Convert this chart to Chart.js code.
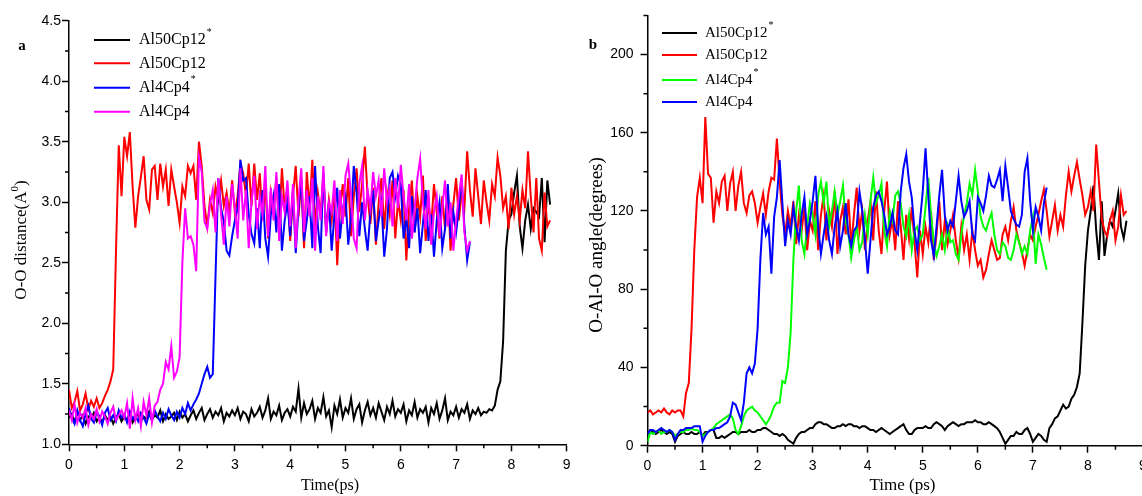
<!DOCTYPE html>
<html>
<head>
<meta charset="utf-8">
<script src="https://cdn.jsdelivr.net/npm/chart.js@4.4.1/dist/chart.umd.min.js"></script>
<style>
  html, body { margin: 0; padding: 0; background: #fff; overflow: hidden; }
  #wrap { position: relative; width: 1142px; height: 496px; overflow: hidden; }
  canvas { position: absolute; top: 0; }
  #graficoA { left: 0; }
  #graficoB { left: 575px; }
</style>
</head>
<body>
<div id="wrap">
  <canvas id="graficoA" width="580" height="496"></canvas>
  <canvas id="graficoB" width="580" height="496"></canvas>
</div>
<script>
// Muestreo de las series (ps entre puntos)
const pasoTiempo = 0.05;

// Etiquetas de los ejes
const ticksTiempo = [0, 1, 2, 3, 4, 5, 6, 7, 8, 9];
const ticksDistancia = [1.0, 1.5, 2.0, 2.5, 3.0, 3.5, 4.0, 4.5];
const ticksAngulo = [0, 40, 80, 120, 160, 200];

// Panel a: distancia O-O (A)
const distAl50Cp12Est = [
  1.22,1.25,1.18,1.27,1.20,1.24,1.17,1.23,1.21,1.26,1.19,1.22,1.18,1.24,1.20,1.23,1.17,1.22,1.25,1.19,
  1.23,1.20,1.26,1.18,1.22,1.25,1.19,1.23,1.21,1.27,1.20,1.24,1.22,1.28,1.19,1.25,1.21,1.23,1.26,1.20,
  1.27,1.22,1.25,1.19,1.24,1.28,1.21,1.26,1.30,1.20,1.25,1.29,1.22,1.27,1.24,1.30,1.19,1.26,1.23,1.28,
  1.24,1.30,1.21,1.27,1.25,1.19,1.29,1.23,1.26,1.31,1.22,1.28,1.38,1.21,1.27,1.24,1.32,1.20,1.26,1.29,
  1.23,1.31,1.27,1.46,1.22,1.34,1.25,1.29,1.36,1.21,1.30,1.26,1.39,1.23,1.28,1.14,1.32,1.25,1.37,1.22,
  1.30,1.26,1.38,1.21,1.29,1.33,1.18,1.28,1.35,1.24,1.30,1.22,1.34,1.27,1.20,1.31,1.25,1.36,1.23,1.29,
  1.26,1.33,1.19,1.28,1.24,1.35,1.22,1.29,1.26,1.31,1.18,1.30,1.25,1.34,1.21,1.28,1.38,1.20,1.27,1.24,
  1.31,1.22,1.29,1.26,1.33,1.21,1.28,1.25,1.30,1.24,1.27,1.26,1.29,1.28,1.32,1.45,1.52,1.85,2.60,2.85,
  2.90,3.08,3.22,2.80,2.62,2.85,2.98,2.78,2.95,2.92,2.88,3.20,2.67,3.18,2.98
];
const distAl50Cp12 = [
  1.45,1.30,1.35,1.44,1.28,1.33,1.42,1.29,1.36,1.31,1.38,1.30,1.34,1.40,1.45,1.52,1.62,2.60,3.47,3.05,
  3.54,3.38,3.58,3.13,2.79,3.05,3.21,3.38,3.02,2.94,3.27,3.30,3.02,3.32,3.13,3.27,2.97,3.27,3.13,3.00,
  2.83,3.13,3.05,3.30,3.24,3.30,3.02,3.50,3.30,2.97,2.80,3.02,2.91,3.13,3.02,3.18,2.97,3.08,2.91,3.18,
  2.91,3.05,3.32,3.24,3.05,3.32,2.97,3.32,3.02,3.24,2.85,3.15,2.70,3.08,2.92,3.20,2.78,3.28,2.95,3.12,
  2.68,3.05,3.30,2.88,3.18,2.62,3.25,2.95,3.35,2.80,3.08,2.90,3.22,2.75,3.02,2.85,3.10,2.48,2.95,3.15,
  2.88,3.20,2.72,3.05,3.28,2.92,3.15,3.46,3.05,2.82,3.12,2.65,3.00,3.20,2.78,3.08,2.90,3.18,2.70,3.02,
  2.85,3.10,2.52,2.95,3.18,2.75,3.05,2.88,3.22,2.68,3.00,2.80,3.15,2.92,2.70,3.05,2.78,3.12,2.60,2.98,
  3.20,2.85,3.08,2.95,3.42,3.10,2.88,3.28,3.05,2.82,3.18,3.00,2.85,3.15,3.05,3.37,3.22,2.95,3.05,2.78,
  3.12,2.90,3.05,2.85,3.10,2.95,3.42,3.05,2.75,3.20,2.70,2.60,3.08,2.80,2.85
];
const distAl4Cp4Est = [
  1.30,1.22,1.17,1.28,1.20,1.15,1.25,1.32,1.21,1.18,1.27,1.23,1.16,1.26,1.30,1.20,1.24,1.19,1.28,1.22,
  1.25,1.18,1.27,1.21,1.24,1.19,1.26,1.22,1.17,1.25,1.20,1.28,1.23,1.19,1.26,1.21,1.29,1.24,1.20,1.27,
  1.22,1.30,1.25,1.34,1.28,1.33,1.37,1.42,1.50,1.58,1.64,1.55,1.58,2.40,3.20,2.95,2.84,2.60,2.56,2.72,
  2.85,2.95,3.35,3.18,3.20,2.90,2.74,2.66,2.95,2.62,3.10,2.70,2.55,2.90,3.05,2.75,3.15,2.60,2.85,3.00,
  2.72,3.10,2.58,2.95,3.20,2.68,2.85,3.05,2.62,3.30,2.80,2.58,3.25,2.75,3.00,2.60,2.90,3.12,2.70,2.95,
  3.05,2.65,2.88,3.30,3.08,2.72,3.00,2.78,2.60,2.92,3.10,2.68,2.85,3.00,2.55,2.78,3.20,3.25,3.05,3.22,
  3.15,2.70,2.88,2.62,3.05,2.75,2.95,2.58,2.82,3.10,2.68,2.90,2.55,2.85,3.00,2.62,2.78,3.15,2.70,2.92,
  2.75,2.95,3.20,2.80,2.52,2.67
];
const distAl4Cp4 = [
  1.28,1.20,1.33,1.18,1.26,1.22,1.30,1.16,1.25,1.21,1.29,1.19,1.27,1.23,1.17,1.26,1.31,1.20,1.24,1.28,
  1.22,1.34,1.13,1.38,1.20,1.30,1.15,1.35,1.24,1.38,1.18,1.32,1.35,1.45,1.50,1.68,1.62,1.81,1.55,1.60,
  1.72,2.50,2.95,2.70,2.72,2.65,2.43,3.37,3.25,2.84,2.78,2.98,3.10,2.75,3.20,2.90,2.65,3.05,2.80,3.15,
  2.95,2.70,3.28,2.85,3.10,2.62,3.00,3.22,2.78,3.05,2.90,3.30,2.72,3.12,2.85,3.25,2.68,3.05,2.92,3.18,
  2.80,3.15,2.62,3.02,3.28,2.75,3.10,2.88,3.20,2.60,3.05,2.85,3.30,2.72,3.00,2.92,3.18,2.68,3.10,2.82,
  3.22,3.32,3.05,2.70,2.62,3.15,3.30,2.85,3.10,2.95,3.25,3.05,3.18,2.88,3.28,3.00,3.12,2.80,3.20,2.95,
  3.31,3.05,2.85,3.15,2.70,2.95,3.20,3.36,3.00,2.78,3.10,2.65,2.92,3.05,2.72,2.95,3.18,2.80,3.00,2.60,
  2.85,3.05,3.23,2.75,2.60,2.68
];

// Panel b: angulo O-Al-O (grados)
const angAl50Cp12Est = [
  6,8,7,6,7,8,7,6,7,6,2,5,6,7,6,6,7,6,6,7,
  5,7,7,8,8,4,4,5,4,5,6,7,7,6,7,7,7,8,7,7,
  8,8,9,9,8,7,6,6,5,6,5,3,2,1,4,6,7,7,8,9,
  9,11,12,12,11,11,10,9,9,10,10,11,10,11,11,10,10,9,10,10,
  9,8,8,7,8,9,8,7,6,7,8,9,10,11,8,6,6,8,9,9,
  9,10,9,9,11,12,11,10,8,10,11,12,11,10,11,11,12,12,12,13,
  12,12,11,11,12,11,10,9,7,4,1,3,5,5,7,6,6,8,9,6,
  2,4,6,5,3,2,9,11,14,15,18,21,19,20,24,26,30,37,63,92,
  110,120,133,110,95,125,97,108,115,112,120,129,112,106,115
];
const angAl50Cp12 = [
  17,18,16,17,18,17,19,17,16,18,17,18,18,15,27,32,60,100,127,137,
  124,168,139,137,114,130,124,135,138,120,134,140,120,133,140,124,119,128,130,124,
  114,122,129,118,130,137,136,157,135,118,108,120,112,125,103,118,110,122,100,115,
  110,125,100,118,128,105,120,112,130,98,115,122,108,126,102,118,132,110,120,100,
  115,125,105,130,110,98,120,135,108,116,100,125,112,95,118,106,122,104,86,110,
  98,112,104,120,95,108,125,100,115,103,110,118,105,96,112,100,108,95,110,100,
  92,95,86,90,98,105,100,95,96,108,112,105,115,122,110,104,99,92,100,108,
  105,112,118,125,131,120,107,115,123,110,118,112,128,140,130,138,145,136,128,118,
  122,130,120,154,135,116,110,107,115,120,105,112,128,118,120
];
const angAl4Cp4Est = [
  2,7,6,7,8,6,7,7,8,7,5,6,7,7,8,8,9,8,8,7,
  5,6,7,8,9,11,12,13,14,15,16,14,8,6,10,15,18,19,20,18,
  17,15,13,11,13,16,20,22,22,33,32,40,58,95,120,133,105,98,112,124,
  118,108,128,135,124,135,112,120,130,118,125,133,115,108,96,105,112,100,104,118,
  108,125,137,124,128,134,110,102,120,115,128,130,124,112,107,118,100,110,112,105,
  108,122,137,118,104,97,102,108,100,112,104,105,98,95,108,118,124,134,128,141,
  130,117,112,110,115,119,108,100,98,104,102,96,95,100,108,104,98,102,98,110,
  117,93,108,103,96,90
];
const angAl4Cp4 = [
  6,8,8,7,8,9,8,7,8,7,3,6,8,8,9,9,9,10,10,10,
  2,5,7,8,8,9,9,10,11,12,15,22,21,17,13,22,37,40,37,42,
  60,95,119,108,112,88,117,127,146,124,102,115,108,122,112,105,118,127,108,115,
  125,138,112,98,108,117,105,98,112,120,102,110,124,108,102,110,112,130,120,105,
  88,105,122,128,130,125,118,108,112,119,110,108,130,142,149,135,127,110,100,115,
  130,152,128,105,97,112,128,141,118,110,115,112,125,138,125,117,120,125,108,105,
  127,124,120,128,138,133,132,136,141,125,143,132,120,116,113,112,118,140,147,125,
  110,122,117,110,124,132
];

// Convierte una lista de valores en puntos {x, y} sobre el tiempo
function serie(valores) {
  return valores.map((v, i) => ({ x: +(i * pasoTiempo).toFixed(2), y: v }));
}

function linea(etiqueta, valores, color) {
  return {
    label: etiqueta,
    data: serie(valores),
    borderColor: color,
    backgroundColor: color,
    borderWidth: 2,
    pointRadius: 0,
    tension: 0,
    fill: false
  };
}

// Dibuja ticks menores, leyenda y textos del panel
const decoracion = {
  id: 'decoracion',
  afterDraw(chart, args, op) {
    const ctx = chart.ctx;
    const sx = chart.scales.x, sy = chart.scales.y, area = chart.chartArea;
    ctx.save();
    ctx.strokeStyle = '#000';
    ctx.lineWidth = 1.5;

    // ticks menores
    ctx.beginPath();
    for (let k = 0; ; k++) {
      const v = sx.min + op.menorX * (2 * k + 1);
      if (v > sx.max) break;
      const px = sx.getPixelForValue(v);
      ctx.moveTo(px, area.bottom);
      ctx.lineTo(px, area.bottom + 4);
    }
    for (let k = 0; ; k++) {
      const v = sy.min + op.menorY * (2 * k + 1);
      if (v > sy.max) break;
      const py = sy.getPixelForValue(v);
      ctx.moveTo(area.left, py);
      ctx.lineTo(area.left - 4, py);
    }
    ctx.stroke();

    // leyenda
    const ley = op.leyenda;
    ctx.textBaseline = 'middle';
    ctx.textAlign = 'left';
    ley.items.forEach((it, i) => {
      const y = ley.filas[i];
      ctx.strokeStyle = it.color;
      ctx.lineWidth = 2;
      ctx.beginPath();
      ctx.moveTo(ley.x1, y);
      ctx.lineTo(ley.x2, y);
      ctx.stroke();
      ctx.fillStyle = '#000';
      ctx.font = ley.size + 'px "Liberation Serif"';
      ctx.fillText(it.texto, ley.xt, y);
      if (it.sup) {
        const w = ctx.measureText(it.texto).width;
        ctx.font = '10px "Liberation Serif"';
        ctx.fillText(it.sup, ley.xt + w + 1, y - 8);
      }
    });

    // letra del panel
    ctx.fillStyle = '#000';
    ctx.textAlign = 'center';
    ctx.font = 'bold 15px "Liberation Serif"';
    ctx.fillText(op.letra.texto, op.letra.x, op.letra.y);

    // titulo eje x
    ctx.font = op.tituloX.size + 'px "Liberation Serif"';
    ctx.fillText(op.tituloX.texto, op.tituloX.x, op.tituloX.y);

    // titulo eje y (rotado, con superindice opcional)
    const ty = op.tituloY;
    ctx.translate(ty.x, ty.y);
    ctx.rotate(-Math.PI / 2);
    ctx.textAlign = 'left';
    const fBase = ty.size + 'px "Liberation Serif"';
    const fSup = Math.round(ty.size * 0.62) + 'px "Liberation Serif"';
    let ancho = 0;
    ty.partes.forEach(p => { ctx.font = p.sup ? fSup : fBase; ancho += ctx.measureText(p.t).width; });
    let cx = -ancho / 2;
    ty.partes.forEach(p => {
      ctx.font = p.sup ? fSup : fBase;
      ctx.fillText(p.t, cx, p.sup ? -7 : 0);
      cx += ctx.measureText(p.t).width;
    });
    ctx.restore();
  }
};

function opciones(cfg) {
  const fuenteTicks = { family: 'Liberation Sans', size: 14 };
  return {
    responsive: false,
    animation: false,
    events: [],
    layout: { padding: { top: cfg.arriba, right: cfg.derecha, left: 0, bottom: 0 } },
    plugins: {
      legend: { display: false },
      tooltip: { enabled: false },
      decoracion: cfg.deco
    },
    scales: {
      x: {
        type: 'linear',
        min: 0,
        max: 9,
        afterBuildTicks: s => { s.ticks = ticksTiempo.map(v => ({ value: v })); },
        afterFit: s => { s.height = cfg.altoX; },
        border: { color: '#000', width: 1.5 },
        grid: { drawOnChartArea: false, drawTicks: true, tickLength: 7, tickColor: '#000', tickWidth: 1.5 },
        ticks: { color: '#000', font: fuenteTicks, padding: 5, maxRotation: 0, callback: v => String(v) }
      },
      y: {
        type: 'linear',
        min: cfg.yMin,
        max: cfg.yMax,
        afterBuildTicks: s => { s.ticks = cfg.ticksY.map(v => ({ value: v })); },
        afterFit: s => { s.width = cfg.anchoY; },
        border: { color: '#000', width: 1.5 },
        grid: { drawOnChartArea: false, drawTicks: true, tickLength: 7, tickColor: '#000', tickWidth: 1.5 },
        ticks: { color: '#000', font: fuenteTicks, padding: cfg.padY, callback: cfg.formatoY }
      }
    }
  };
}

// Panel a
new Chart(document.getElementById('graficoA').getContext('2d'), {
  type: 'line',
  data: {
    datasets: [
      linea('Al4Cp4', distAl4Cp4, '#ff00ff'),
      linea('Al4Cp4*', distAl4Cp4Est, '#0000ff'),
      linea('Al50Cp12', distAl50Cp12, '#ff0000'),
      linea('Al50Cp12*', distAl50Cp12Est, '#000000')
    ]
  },
  options: opciones({
    arriba: 20.7, derecha: 13.3, altoX: 51.7, anchoY: 69, padY: 1,
    yMin: 1, yMax: 4.5, ticksY: ticksDistancia, formatoY: v => v.toFixed(1),
    deco: {
      menorX: 0.5, menorY: 0.25,
      leyenda: {
        x1: 94, x2: 130, xt: 139, size: 16, filas: [40, 63.3, 87.7, 111.7],
        items: [
          { texto: 'Al50Cp12', sup: '*', color: '#000000' },
          { texto: 'Al50Cp12', sup: '', color: '#ff0000' },
          { texto: 'Al4Cp4', sup: '*', color: '#0000ff' },
          { texto: 'Al4Cp4', sup: '', color: '#ff00ff' }
        ]
      },
      letra: { texto: 'a', x: 22, y: 46 },
      tituloX: { texto: 'Time(ps)', x: 330, y: 486, size: 16 },
      tituloY: { x: 22, y: 240, size: 17, partes: [{ t: 'O-O distance(A' }, { t: '0', sup: true }, { t: ')' }] }
    }
  }),
  plugins: [decoracion]
});

// Panel b
new Chart(document.getElementById('graficoB').getContext('2d'), {
  type: 'line',
  data: {
    datasets: [
      linea('Al4Cp4', angAl4Cp4, '#0000ff'),
      linea('Al4Cp4*', angAl4Cp4Est, '#00ff00'),
      linea('Al50Cp12', angAl50Cp12, '#ff0000'),
      linea('Al50Cp12*', angAl50Cp12Est, '#000000')
    ]
  },
  options: opciones({
    arriba: 14.7, derecha: 12, altoX: 50.3, anchoY: 72.5, padY: 7,
    yMin: 0, yMax: 220, ticksY: ticksAngulo, formatoY: v => String(v),
    deco: {
      menorX: 0.5, menorY: 20,
      leyenda: {
        x1: 87, x2: 122, xt: 130, size: 15, filas: [33, 55, 80, 102],
        items: [
          { texto: 'Al50Cp12', sup: '*', color: '#000000' },
          { texto: 'Al50Cp12', sup: '', color: '#ff0000' },
          { texto: 'Al4Cp4', sup: '*', color: '#00ff00' },
          { texto: 'Al4Cp4', sup: '', color: '#0000ff' }
        ]
      },
      letra: { texto: 'b', x: 18, y: 45 },
      tituloX: { texto: 'Time (ps)', x: 327.5, y: 486, size: 17 },
      tituloY: { x: 22, y: 245, size: 19, partes: [{ t: 'O-Al-O angle(degrees)' }] }
    }
  }),
  plugins: [decoracion]
});
</script>
</body>
</html>
